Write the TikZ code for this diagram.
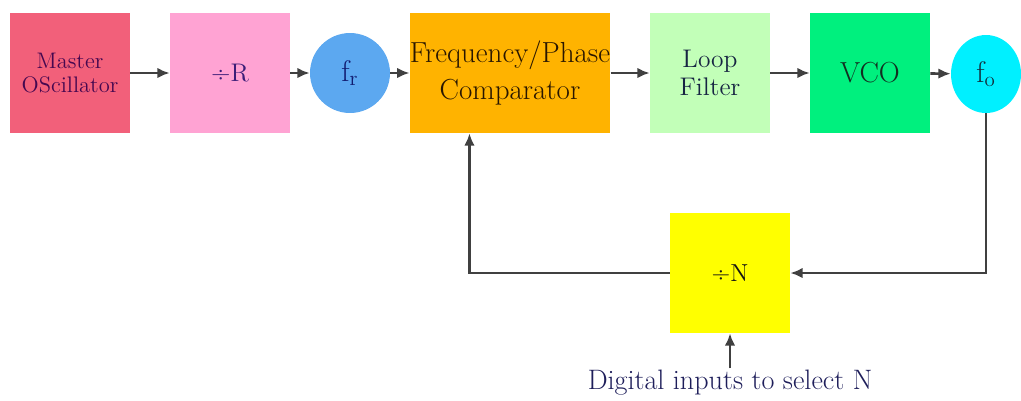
\documentclass[tikz,border=0pt]{standalone}
\usetikzlibrary{arrows.meta,shapes.geometric}

\definecolor{oscred}{HTML}{F2607A}
\definecolor{divpink}{HTML}{FFA3D3}
\definecolor{refblue}{HTML}{5CA8F0}
\definecolor{comporange}{HTML}{FFB300}
\definecolor{filtgreen}{HTML}{C2FFB8}
\definecolor{vcogreen}{HTML}{00F07E}
\definecolor{outcyan}{HTML}{00F0FF}
\definecolor{divyellow}{HTML}{FFFF00}
\definecolor{linegray}{HTML}{404040}

\begin{document}
\begin{tikzpicture}[
            x=0.02cm, y=-0.02cm,
            block/.style={rectangle, minimum width=2.4cm, minimum height=2.4cm,
                inner sep=0pt, align=center},
            wire/.style={draw=linegray, line width=1.5pt, -{Latex[length=7pt,width=6pt]}}
        ]
        \useasboundingbox (0,0) rectangle (1021,400);
        % top row
        \node[block, fill=oscred, text={rgb,255:red,70;green,8;blue,80},
            font=\fontsize{12.8}{14}\selectfont] (osc) at (70,73) {Master\\OScillator};
        \node[block, fill=divpink, text={rgb,255:red,60;green,30;blue,120},
            font=\fontsize{14.5}{16}\selectfont] (divR) at (230,73) {÷R};
        \node[circle, fill=refblue, minimum size=1.6cm, inner sep=0pt,
            text={rgb,255:red,16;green,25;blue,110},
            font=\fontsize{17}{18}\selectfont] (fr) at (350,73) {f\textsubscript{r}};
        \node[block, minimum width=4cm, fill=comporange, text={rgb,255:red,40;green,22;blue,0},
            font=\fontsize{16.5}{21}\selectfont] (comp) at (510,73) {Frequency/Phase\\Comparator};
        \node[block, fill=filtgreen, text={rgb,255:red,22;green,36;blue,66},
            font=\fontsize{14.5}{15.5}\selectfont] (loop) at (710,73) {Loop\\Filter};
        \node[block, fill=vcogreen, text={rgb,255:red,18;green,46;blue,32},
            font=\fontsize{16.5}{18}\selectfont] (vco) at (870,73) {VCO};
        \node[ellipse, fill=outcyan, minimum width=1.4cm, minimum height=1.56cm, inner sep=0pt,
            text={rgb,255:red,18;green,46;blue,60},
            font=\fontsize{17}{18}\selectfont] (fo) at (986,74) {f\textsubscript{o}};
        % feedback path
        \node[block, fill=divyellow, text={rgb,255:red,20;green,20;blue,20},
            font=\fontsize{14}{16}\selectfont] (divN) at (730,273) {÷N};
        \node[inner sep=1pt, text={rgb,255:red,30;green,30;blue,90},
            font=\fontsize{16}{17}\selectfont] (digi) at (730,383) {Digital inputs to select N};
        % connectors
        \foreach \from/\to in {osc/divR, divR/fr, fr/comp, comp/loop, loop/vco, vco/fo}
            \draw[wire] (\from) -- (\to);
        \draw[wire] (fo.south) |- (divN.east);
        \draw[wire] (divN.west) -| ([xshift=1.2cm]comp.south west);
        \draw[wire] (digi.north) -- (divN.south);
\end{tikzpicture}
\end{document}
